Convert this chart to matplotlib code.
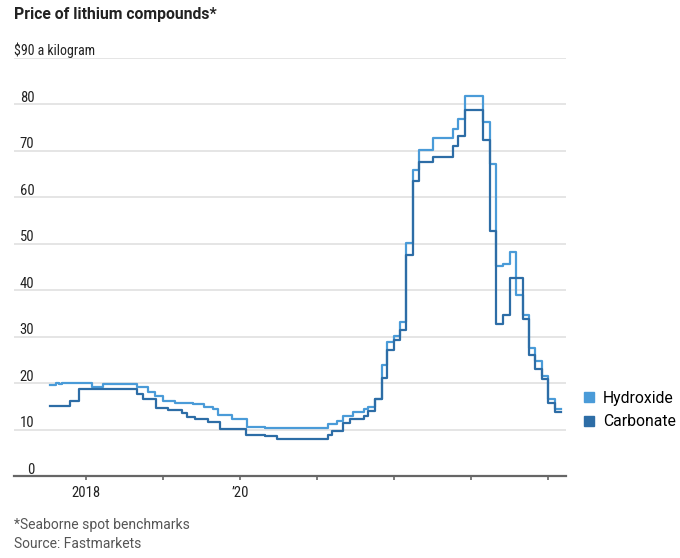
import pandas as pd
import matplotlib.pyplot as plt
from matplotlib.lines import Line2D

# -----------------------------
# Data
# -----------------------------
HYDROXIDE_DATES = [
    "2017-07-13", "2017-08-10", "2017-08-25", "2017-09-08", "2018-01-29",
    "2018-03-21", "2018-08-29", "2018-10-21", "2018-11-23", "2019-01-01",
    "2019-02-27", "2019-05-23", "2019-07-13", "2019-08-25", "2019-09-17",
    "2019-11-26", "2020-02-02", "2020-04-28", "2021-02-21", "2021-04-06",
    "2021-05-04", "2021-06-20", "2021-08-12", "2021-09-01", "2021-10-01",
    "2021-11-03", "2021-11-26", "2021-12-31", "2022-01-29", "2022-02-26",
    "2022-04-01", "2022-04-28", "2022-07-03", "2022-10-08", "2022-10-31",
    "2022-12-02", "2023-02-26", "2023-04-01", "2023-04-27", "2023-06-01",
    "2023-07-06", "2023-07-31", "2023-09-05", "2023-10-04", "2023-10-31",
    "2023-12-02", "2024-01-01", "2024-02-02", "2024-02-29",
]
HYDROXIDE_PRICES = [
    19.7, 20.1, 19.8, 20.1, 19.2,
    19.8, 19.2, 18.2, 17.3, 16.2,
    15.8, 15.5, 15.0, 14.4, 13.3,
    12.3, 10.7, 10.4, 11.3, 11.9,
    13.1, 13.8, 14.5, 15.0, 16.6,
    24.0, 29.0, 30.1, 33.1, 50.1,
    65.8, 70.1, 72.7, 74.7, 76.8,
    81.8, 76.3, 67.2, 45.2, 45.7,
    48.2, 39.1, 34.8, 27.7, 24.8,
    21.6, 16.6, 14.4, 14.4,
]

CARBONATE_DATES = [
    "2017-07-13", "2017-10-16", "2017-11-28", "2018-08-29", "2018-09-27",
    "2018-11-28", "2019-01-24", "2019-04-01", "2019-04-24", "2019-06-01",
    "2019-08-01", "2019-09-27", "2020-01-29", "2020-04-28", "2020-06-24",
    "2021-02-21", "2021-03-13", "2021-05-04", "2021-06-06", "2021-08-12",
    "2021-09-01", "2021-10-01", "2021-11-03", "2021-11-26", "2021-12-31",
    "2022-01-29", "2022-02-26", "2022-04-01", "2022-04-28", "2022-07-03",
    "2022-10-08", "2022-10-31", "2022-12-02", "2023-02-26", "2023-04-01",
    "2023-04-27", "2023-06-01", "2023-07-06", "2023-09-05", "2023-10-04",
    "2023-10-31", "2023-12-02", "2024-01-01", "2024-02-02", "2024-02-29",
]
CARBONATE_PRICES = [
    15.1, 16.2, 18.7, 17.8, 16.7,
    14.8, 14.2, 13.7, 12.8, 12.3,
    11.7, 10.1, 9.0, 8.7, 8.1,
    8.9, 9.8, 11.6, 12.3, 13.1,
    14.0, 16.6, 21.1, 27.1, 29.4,
    31.4, 47.6, 63.6, 67.7, 68.6,
    71.1, 73.1, 78.8, 72.3, 52.8,
    32.7, 34.8, 42.7, 33.8, 26.2,
    23.0, 20.9, 15.8, 13.8, 13.8,
]

Y_TICKS = [0, 10, 20, 30, 40, 50, 60, 70, 80, 90]
X_TICK_YEARS = [2018, 2019, 2020, 2021, 2022, 2023, 2024]
X_TICK_LABELS = {2018: "2018", 2020: "\u201920"}

HYDROXIDE_COLOR = "#4a9bd8"
CARBONATE_COLOR = "#2d6da6"
TEXT_COLOR = "#222222"
NARROW = ["Roboto Condensed", "DejaVu Sans"]
REGULAR = ["Roboto", "DejaVu Sans"]


def main():
    hyd = pd.Series(HYDROXIDE_PRICES, index=pd.to_datetime(HYDROXIDE_DATES))
    carb = pd.Series(CARBONATE_PRICES, index=pd.to_datetime(CARBONATE_DATES))

    fig = plt.figure(figsize=(6.8, 5.58), dpi=100)
    ax = fig.add_axes([0.0206, 0.1461, 0.8118, 0.7503])

    ax.step(hyd.index, hyd.values, where="post", color=HYDROXIDE_COLOR,
            lw=1.6, zorder=3)
    ax.step(carb.index, carb.values, where="post", color=CARBONATE_COLOR,
            lw=1.6, zorder=4)

    ax.set_ylim(0, 90)
    ax.set_xlim(pd.Timestamp("2017-01-24"), pd.Timestamp("2024-03-26"))

    # horizontal gridlines, labels sit on top of them
    for v in Y_TICKS[1:]:
        ax.axhline(v, color="#e3e3e3", lw=1.3, zorder=1)
    for v in Y_TICKS[:-1]:
        ax.text(0.037, v + 0.55, str(v), transform=ax.get_yaxis_transform(),
                ha="right", va="baseline", fontsize=10.5, family=NARROW,
                color=TEXT_COLOR)
    ax.text(0.0, 90.6, "$90 a kilogram", transform=ax.get_yaxis_transform(),
            ha="left", va="baseline", fontsize=10, family=NARROW,
            color=TEXT_COLOR)

    ax.set_yticks([])
    for side in ["left", "right", "top"]:
        ax.spines[side].set_visible(False)
    ax.spines["bottom"].set_color("#666666")
    ax.spines["bottom"].set_linewidth(1.6)

    tick_dates = [pd.Timestamp(f"{y}-01-01") for y in X_TICK_YEARS]
    ax.set_xticks(tick_dates)
    ax.set_xticklabels([X_TICK_LABELS.get(y, "") for y in X_TICK_YEARS],
                       family=NARROW, fontsize=10.5, color=TEXT_COLOR)
    ax.tick_params(axis="x", length=3, width=1.2, color="#666666", pad=4)

    fig.text(0.0206, 1 - 19 / 558, "Price of lithium compounds*", ha="left",
             va="baseline", fontsize=11.3, fontweight="bold", family=REGULAR,
             color=TEXT_COLOR)

    fig.text(0.0206, 1 - 529 / 558, "*Seaborne spot benchmarks", ha="left",
             va="baseline", fontsize=10, family=REGULAR, color="#555555")
    fig.text(0.0206, 1 - 548 / 558, "Source: Fastmarkets", ha="left",
             va="baseline", fontsize=10, family=REGULAR, color="#555555")

    handles = [
        Line2D([], [], marker="s", ls="none", ms=6.5, color=HYDROXIDE_COLOR),
        Line2D([], [], marker="s", ls="none", ms=6.5, color=CARBONATE_COLOR),
    ]
    fig.legend(handles, ["Hydroxide", "Carbonate"], loc="center left",
               bbox_to_anchor=(0.858, 1 - 410 / 558), frameon=False,
               prop={"family": REGULAR, "size": 11.3}, handlelength=0.7,
               handletextpad=0.55, labelspacing=0.55, borderaxespad=0,
               borderpad=0)

    fig.savefig("out.png", dpi=100)
    plt.close(fig)


if __name__ == "__main__":
    main()
